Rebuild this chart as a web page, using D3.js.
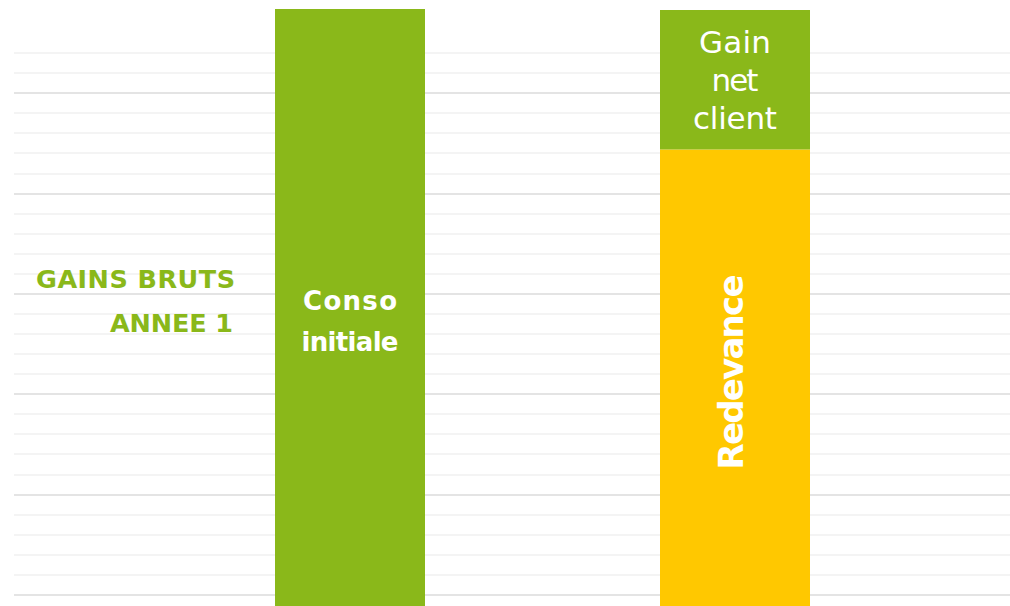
<!DOCTYPE html>
<html>
<head>
<meta charset="utf-8">
<script src="https://cdn.jsdelivr.net/npm/d3@7"></script>
<style>
  html, body { margin: 0; padding: 0; background: #fff; }
  svg { display: block; }
</style>
</head>
<body>
<svg id="chart" width="1010" height="606"></svg>
<script>
// ---- data ----
const categories = ["Conso initiale", "Après"];
const consoValues = [29.2, 0];
const redevanceValues = [0, 22.2];
const gainNetValues = [0, 6.95];
const baseValue = -0.6;            // bars run below the visible frame
const gridTicks = d3.range(0, 28);  // 0..27
const majorEvery = 5;
const sideLabel = ["GAINS BRUTS", "ANNEE 1"];

const GREEN = "#8AB81A";
const YELLOW = "#FFC800";
const FONT = "'DejaVu Sans', Verdana, sans-serif";

const W = 1010, H = 606;
const svg = d3.select("#chart");

const y = d3.scaleLinear().domain([baseValue, 29.2]).range([607, 9]);
const x = d3.scaleBand().domain(categories).range([40, 1045])
  .paddingInner(0.6104).paddingOuter(0.6104);

// gridlines
const grid = svg.append("g");
grid.selectAll("line.minor")
  .data(gridTicks.filter(d => d % majorEvery !== 0))
  .join("line")
  .attr("x1", 14).attr("x2", W)
  .attr("y1", d => Math.round(y(d))).attr("y2", d => Math.round(y(d)))
  .attr("stroke", "#f4f4f4").attr("stroke-width", 2);
grid.selectAll("line.major")
  .data(gridTicks.filter(d => d % majorEvery === 0))
  .join("line")
  .attr("x1", 14).attr("x2", W)
  .attr("y1", d => Math.round(y(d))).attr("y2", d => Math.round(y(d)))
  .attr("stroke", "#e4e4e4").attr("stroke-width", 2);

// stacked bars
const rows = categories.map((c, i) => ({
  cat: c, conso: consoValues[i], redevance: redevanceValues[i], gain: gainNetValues[i]
}));
const keys = ["conso", "redevance", "gain"];
const colors = { conso: GREEN, redevance: YELLOW, gain: GREEN };
const stack = d3.stack().keys(keys)(rows);

svg.append("g").selectAll("g").data(stack).join("g")
  .attr("fill", d => colors[d.key])
  .selectAll("rect")
  .data(d => d.filter(s => s[1] - s[0] > 0))
  .join("rect")
  .attr("x", d => x(d.data.cat))
  .attr("width", x.bandwidth())
  .attr("y", d => y(d[1]))
  .attr("height", d => (d[0] === 0 ? y(baseValue) : y(d[0])) - y(d[1]));

// side label
const side = svg.append("g").attr("fill", GREEN)
  .attr("font-family", FONT).attr("font-weight", "bold").attr("font-size", 25.5);
side.append("text").attr("x", 235).attr("y", 288).attr("text-anchor", "end")
  .attr("textLength", 199).attr("lengthAdjust", "spacing").text(sideLabel[0]);
side.append("text").attr("x", 233).attr("y", 332).attr("text-anchor", "end")
  .attr("textLength", 123).attr("lengthAdjust", "spacing").text(sideLabel[1]);

// bar labels
const cx0 = x(categories[0]) + x.bandwidth() / 2;
const cx1 = x(categories[1]) + x.bandwidth() / 2;

const t1 = svg.append("g").attr("fill", "#fff").attr("font-family", FONT)
  .attr("font-weight", "bold").attr("font-size", 26).attr("text-anchor", "middle");
t1.append("text").attr("x", cx0).attr("y", 310).attr("textLength", 94).attr("lengthAdjust", "spacing").text("Conso");
t1.append("text").attr("x", cx0).attr("y", 351).attr("textLength", 97).attr("lengthAdjust", "spacing").text("initiale");

const t2 = svg.append("g").attr("fill", "#fff").attr("font-family", FONT)
  .attr("font-weight", "normal").attr("font-size", 31).attr("text-anchor", "middle");
t2.append("text").attr("x", cx1).attr("y", 53).attr("textLength", 72).attr("lengthAdjust", "spacing").text("Gain");
t2.append("text").attr("x", cx1).attr("y", 91).attr("textLength", 47).attr("lengthAdjust", "spacing").text("net");
t2.append("text").attr("x", cx1).attr("y", 129).attr("textLength", 84).attr("lengthAdjust", "spacing").text("client");

svg.append("text")
  .attr("transform", `translate(${cx1 + 8},372) rotate(-90)`)
  .attr("text-anchor", "middle").attr("fill", "#fff")
  .attr("font-family", FONT).attr("font-weight", "bold").attr("font-size", 34)
  .attr("textLength", 195).attr("lengthAdjust", "spacing")
  .text("Redevance");
</script>
</body>
</html>
